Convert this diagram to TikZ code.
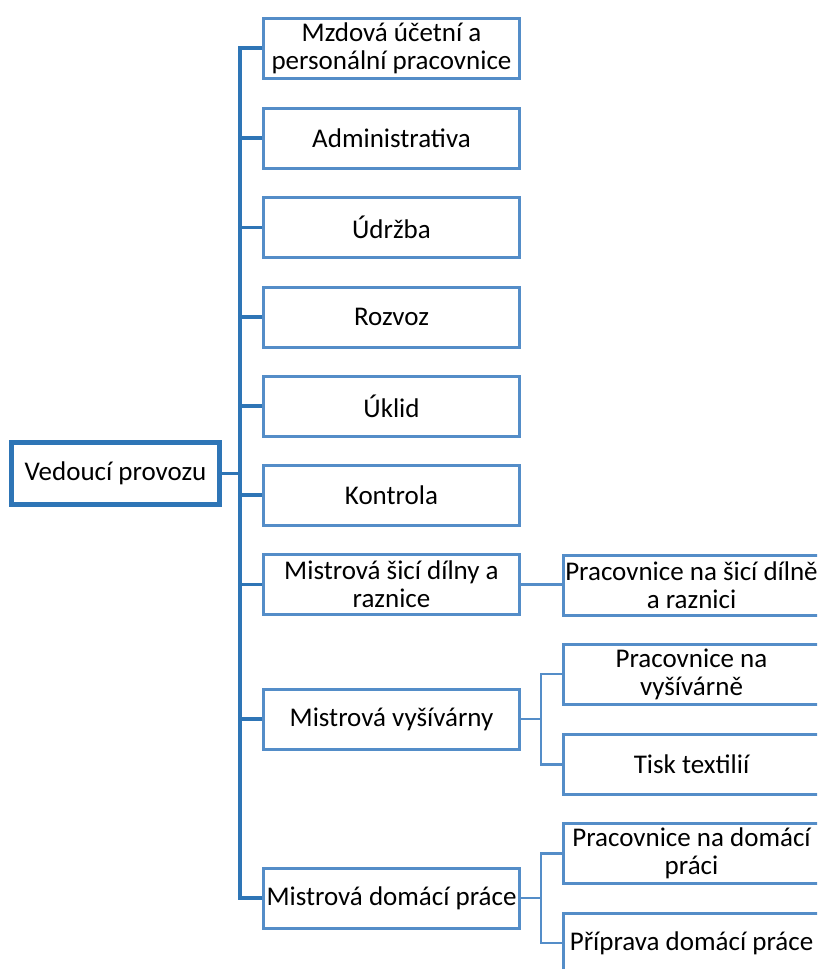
\documentclass[tikz,border=0pt]{standalone}
\usepackage{fontspec}
\setmainfont{Carlito}
\definecolor{rootblue}{RGB}{46,117,182}
\definecolor{boxblue}{RGB}{84,141,200}
\tikzstyle{box}=[draw=boxblue, line width=3pt, minimum width=256pt, minimum height=60pt, align=center, inner sep=0pt, font=\fontsize{27}{28}\selectfont]
\tikzstyle{rootbox}=[box, draw=rootblue, line width=5pt, minimum width=208pt, minimum height=62pt]
\tikzstyle{trunk}=[rootblue, line width=3.5pt]
\tikzstyle{twig}=[boxblue, line width=2.5pt]

\begin{document}
\begin{tikzpicture}[x=1pt, y=-1pt]
    \useasboundingbox (0,0) rectangle (817,969);
    \clip (0,0) rectangle (817,969);
% Boss
    \node[rootbox] (vedouci) at (115.5,473.5) {Vedoucí provozu};
% First level
    \node[box] (mzdova) at (391.5,48) {Mzdová účetní a\\personální pracovnice};
    \node[box] (admin) at (391.5,138) {Administrativa};
    \node[box] (udrzba) at (391.5,227.5) {Údržba};
    \node[box] (rozvoz) at (391.5,317) {Rozvoz};
    \node[box] (uklid) at (391.5,406) {Úklid};
    \node[box] (kontrola) at (391.5,495) {Kontrola};
    \node[box] (sici) at (391.5,584.5) {Mistrová šicí dílny a\\raznice};
    \node[box] (vysiv) at (391.5,719) {Mistrová vyšívárny};
    \node[box] (domaci) at (391.5,898) {Mistrová domácí práce};
% Second level
    \node[box] (pracsici) at (691.5,585) {Pracovnice na šicí dílně\\a raznici};
    \node[box] (pracvys) at (691.5,674) {Pracovnice na\\vyšívárně};
    \node[box] (tisk) at (691.5,764.5) {Tisk textilií};
    \node[box] (pracdom) at (691.5,853.5) {Pracovnice na domácí\\práci};
    \node[box] (priprava) at (691.5,943) {Příprava domácí práce};
% Trunk
    \draw[trunk] (vedouci.east) -- ++(18,0) coordinate (hub);
    \foreach \n in {mzdova,admin,udrzba,rozvoz,uklid,kontrola,sici,vysiv,domaci}
        \draw[trunk] (hub) |- (\n.west);
% Branches
    \draw[twig] (sici.east) -- (sici.east -| pracsici.west);
    \draw[twig] (vysiv.east) -- ++(20,0) coordinate (vhub);
    \draw[twig] (vhub) |- (pracvys.west);
    \draw[twig] (vhub) |- (tisk.west);
    \draw[twig] (domaci.east) -- ++(20,0) coordinate (dhub);
    \draw[twig] (dhub) |- (pracdom.west);
    \draw[twig] (dhub) |- (priprava.west);
\end{tikzpicture}
\end{document}
